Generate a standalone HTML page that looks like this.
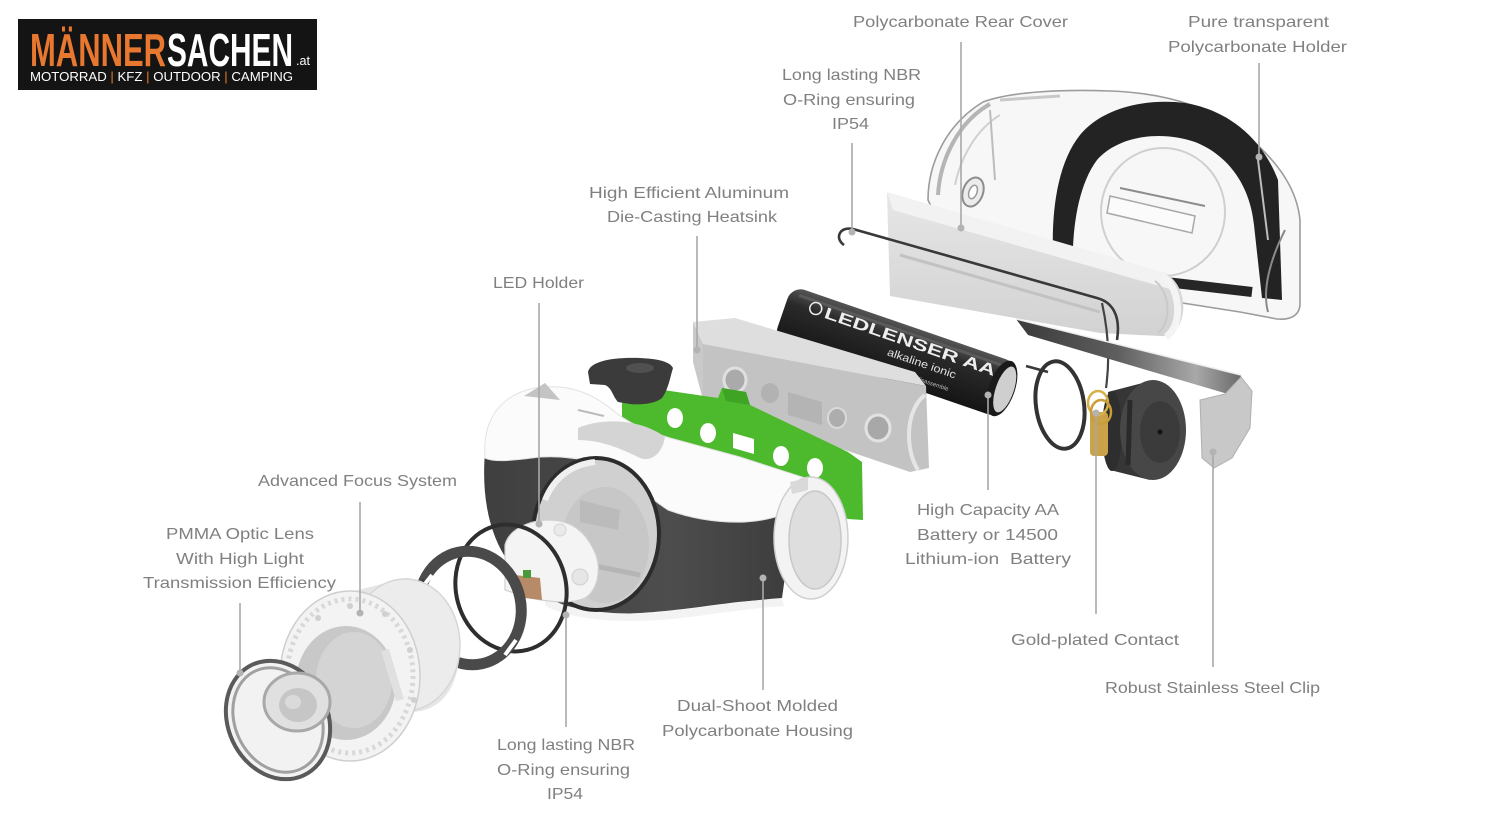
<!DOCTYPE html>
<html><head><meta charset="utf-8"><style>
html,body{margin:0;padding:0;background:#fff;width:1491px;height:818px;overflow:hidden;}
svg{display:block;}
.t{font-family:"Liberation Sans",sans-serif;font-size:16px;fill:#808080;}
.l{stroke:#a8a8a8;stroke-width:1.6;fill:none;}
.d{fill:#b3b3b3;}
</style></head><body>
<svg width="1491" height="818" viewBox="0 0 1491 818" xmlns="http://www.w3.org/2000/svg">
<defs>
<linearGradient id="steel" x1="0" y1="0" x2="1" y2="0">
<stop offset="0" stop-color="#3a3a3a"/><stop offset="0.45" stop-color="#5e5e5e"/><stop offset="0.8" stop-color="#a8a8a8"/><stop offset="1" stop-color="#6a6a6a"/></linearGradient>
<linearGradient id="bat" x1="0" y1="0" x2="0" y2="1">
<stop offset="0" stop-color="#555"/><stop offset="0.3" stop-color="#2a2a2a"/><stop offset="1" stop-color="#151515"/></linearGradient>
<linearGradient id="cover" x1="0" y1="0" x2="0" y2="1">
<stop offset="0" stop-color="#e6e6e6"/><stop offset="1" stop-color="#d2d2d2"/></linearGradient>
<linearGradient id="dark" x1="0" y1="0" x2="1" y2="0">
<stop offset="0" stop-color="#3f3f3f"/><stop offset="0.6" stop-color="#4d4d4d"/><stop offset="1" stop-color="#3c3c3c"/></linearGradient>
</defs>

<!-- LOGO -->
<rect x="18" y="19" width="299" height="71" fill="#141414"/>
<text x="30" y="66" font-family="Liberation Sans,sans-serif" font-weight="bold" font-size="46" textLength="136" lengthAdjust="spacingAndGlyphs" fill="#e8782f">MÄNNER</text>
<text x="167" y="66" font-family="Liberation Sans,sans-serif" font-weight="bold" font-size="46" textLength="126" lengthAdjust="spacingAndGlyphs" fill="#ffffff">SACHEN</text>
<text x="296" y="65" font-family="Liberation Sans,sans-serif" font-size="13" textLength="14" lengthAdjust="spacingAndGlyphs" fill="#ffffff">.at</text>
<text x="30" y="81" font-family="Liberation Sans,sans-serif" font-size="12.5" textLength="263" lengthAdjust="spacingAndGlyphs" fill="#ffffff">MOTORRAD <tspan fill="#e8782f">|</tspan> KFZ <tspan fill="#e8782f">|</tspan> OUTDOOR <tspan fill="#e8782f">|</tspan> CAMPING</text>

<!-- TRANSPARENT HOLDER -->
<path d="M928,200 C928,165 945,125 983,102 C1010,92 1060,89 1110,91 C1170,93 1220,110 1252,140 C1280,165 1297,190 1300,220 L1300,305 C1299,316 1290,320 1277,319 L1240,312 L1100,290 L935,215 Z" fill="#f7f7f7" stroke="#9c9c9c" stroke-width="1.6"/>
<path d="M938,195 C940,160 958,122 990,104" stroke="#b5b5b5" stroke-width="4" fill="none"/>
<path d="M955,185 C960,160 975,130 1000,115" stroke="#d0d0d0" stroke-width="2" fill="none"/>
<path d="M990,110 L995,180" stroke="#bcbcbc" stroke-width="2" fill="none"/>
<path d="M1000,100 L1060,96" stroke="#c8c8c8" stroke-width="3"/>
<ellipse cx="973" cy="192" rx="10" ry="15" fill="#ececec" stroke="#8c8c8c" stroke-width="2" transform="rotate(20 973 192)"/>
<ellipse cx="973" cy="192" rx="4" ry="7" fill="#fff" stroke="#999" stroke-width="1.5" transform="rotate(20 973 192)"/>
<path d="M1056,292 C1049,235 1052,170 1080,135 C1102,108 1145,98 1185,103 C1228,110 1262,138 1278,180 L1282,300 L1262,298 L1254,225 C1250,185 1228,155 1195,142 C1160,130 1118,136 1097,160 C1076,188 1070,240 1074,285 Z" fill="#232323"/>
<path d="M1080,272 L1252,292" stroke="#262626" stroke-width="10" fill="none"/>
<ellipse cx="1163" cy="212" rx="62" ry="64" fill="none" stroke="#cfcfcf" stroke-width="2"/>
<path d="M1110,196 L1195,216 L1192,233 L1107,213 Z" fill="#fbfbfb" stroke="#a8a8a8" stroke-width="1.5"/>
<path d="M1120,188 L1205,206" stroke="#8c8c8c" stroke-width="2"/>
<path d="M1258,160 L1268,240" stroke="#bdbdbd" stroke-width="2"/>
<path d="M1285,230 C1270,260 1262,290 1268,312" stroke="#8a8a8a" stroke-width="2" fill="none"/>

<!-- REAR COVER -->
<path d="M887,193 L1165,273 C1178,280 1185,296 1183,312 C1181,327 1173,337 1160,336 L1100,333 L890,296 Z" fill="url(#cover)"/>
<path d="M887,192 L1166,273 L1170,289 L893,210 Z" fill="#f2f2f2"/>
<path d="M900,255 L1100,312" stroke="#c2c2c2" stroke-width="3" fill="none"/>
<path d="M1162,276 C1180,286 1184,325 1166,337" stroke="#f4f4f4" stroke-width="7" fill="none"/>
<path d="M1155,281 C1170,292 1172,322 1158,333" stroke="#c9c9c9" stroke-width="2" fill="none"/>

<!-- WIRE -->
<path d="M1117,340 C1121,315 1112,302 1097,298 L853,229 C840,226 834,238 844,245" stroke="#393939" stroke-width="2.6" fill="none"/>
<path d="M1026,366 L1048,372" stroke="#393939" stroke-width="2.6"/>
<path d="M1102,303 C1108,330 1110,360 1106,388" stroke="#444" stroke-width="2.2" fill="none"/>

<!-- STEEL CLIP -->
<path d="M1016,319 L1241,375 L1238,397 L1028,335 Z" fill="url(#steel)"/>
<path d="M1016,319 L1241,375" stroke="#eee" stroke-width="1.5"/>
<path d="M1241,377 L1252,391 L1250,428 L1232,458 L1214,468 L1202,458 L1200,400 L1225,394 Z" fill="#c8c8c8" stroke="#b0b0b0" stroke-width="1"/>

<!-- BATTERY -->
<g transform="translate(896,352) rotate(19)">
<rect x="-120" y="-29" width="240" height="58" rx="14" fill="url(#bat)"/>
<path d="M-110,-22 L108,-22" stroke="#6a6a6a" stroke-width="3" opacity="0.6"/>
<ellipse cx="112" cy="0" rx="13" ry="29" fill="#1a1a1a"/>
<ellipse cx="115" cy="0" rx="9" ry="24" fill="#cfcfcf"/>
<circle cx="-90" cy="-15" r="6" fill="none" stroke="#eee" stroke-width="1.5"/>
<text x="-80" y="-9" font-family="Liberation Sans,sans-serif" font-size="16" font-weight="bold" fill="#eeeeee" textLength="180" lengthAdjust="spacingAndGlyphs">LEDLENSER AA</text>
<text x="-8" y="6" font-family="Liberation Sans,sans-serif" font-size="11" fill="#e0e0e0" textLength="72" lengthAdjust="spacingAndGlyphs">alkaline ionic</text>
<text x="10" y="20" font-family="Liberation Sans,sans-serif" font-size="6" fill="#bbb">do not disassemble</text>
</g>

<!-- RIGHT O-RING, END CAP -->
<ellipse cx="1060" cy="405" rx="24" ry="44" fill="none" stroke="#333" stroke-width="4" transform="rotate(-8 1060 405)"/>
<path d="M1108,392 L1150,381 L1150,480 L1110,470 Z" fill="#363636"/>
<ellipse cx="1112" cy="431" rx="10" ry="40" fill="#2e2e2e"/>
<ellipse cx="1153" cy="430" rx="33" ry="50" fill="#474747"/>
<ellipse cx="1160" cy="432" rx="20" ry="31" fill="#3b3b3b"/>
<path d="M1130,400 L1128,465" stroke="#2a2a2a" stroke-width="5"/>
<circle cx="1160" cy="432" r="2.5" fill="#111"/>
<rect x="1090" y="412" width="18" height="44" rx="4" fill="#c9a24a"/>
<ellipse cx="1098" cy="403" rx="10" ry="12" fill="none" stroke="#d7b04a" stroke-width="2.5"/>
<ellipse cx="1101" cy="412" rx="10" ry="12" fill="none" stroke="#c99d38" stroke-width="2.5"/>

<!-- HEATSINK -->
<path d="M693,322 L735,318 L915,372 L926,386 L703,344 Z" fill="#dedede"/>
<path d="M693,322 L703,344 L703,400 L693,362 Z" fill="#c9c9c9"/>
<path d="M703,344 L926,386 L929,468 L910,472 L703,402 Z" fill="#c3c3c3"/>
<path d="M925,395 C905,410 905,450 918,470" stroke="#e5e5e5" stroke-width="4" fill="none"/>
<ellipse cx="735" cy="380" rx="11" ry="12" fill="#aaa" stroke="#e0e0e0" stroke-width="3"/>
<ellipse cx="770" cy="393" rx="9" ry="10" fill="#b2b2b2"/>
<path d="M788,392 L822,402 L822,425 L788,415 Z" fill="#b4b4b4"/>
<ellipse cx="837" cy="418" rx="9" ry="10" fill="#adadad" stroke="#dadada" stroke-width="2"/>
<ellipse cx="878" cy="428" rx="12" ry="13" fill="#a8a8a8" stroke="#e2e2e2" stroke-width="3"/>

<!-- GREEN PCB -->
<path d="M622,384 L718,398 L722,388 L746,392 L750,405 L848,452 L862,462 L863,520 L848,519 L622,443 Z" fill="#4db92c"/>
<path d="M722,388 L746,392 L750,405 L726,401 Z" fill="#3fa324"/>
<ellipse cx="675" cy="418" rx="8" ry="10" fill="#fff"/>
<ellipse cx="708" cy="433" rx="8" ry="10" fill="#fff"/>
<path d="M733,433 L754,439 L754,454 L733,448 Z" fill="#fff"/>
<ellipse cx="781" cy="456" rx="8" ry="10" fill="#fff"/>
<ellipse cx="815" cy="468" rx="8" ry="10" fill="#fff"/>

<!-- HOUSING -->
<path d="M485,452 C481,500 490,550 525,580 C545,600 570,610 600,613 C640,616 690,608 730,603 C755,600 772,600 782,598 L795,505 L660,505 L600,462 L540,455 Z" fill="url(#dark)"/>
<path d="M485,458 C482,420 500,395 535,388 C565,383 590,392 610,408 C630,425 650,432 670,438 L740,457 L805,478 L800,505 C790,512 775,520 745,522 C715,523 690,518 668,510 C645,495 630,478 610,466 C590,458 560,456 540,457 C515,460 495,463 485,458 Z" fill="#fbfbfb" stroke="#e2e2e2" stroke-width="1"/>
<path d="M578,428 C600,418 640,418 665,437 C662,455 650,462 640,458 C620,448 600,440 578,440 Z" fill="#d4d4d4"/>
<path d="M524,396 L545,383 L560,400 Z" fill="#c4c4c4"/>
<path d="M578,410 L604,416" stroke="#bbb" stroke-width="2"/>
<path d="M545,598 C575,612 620,616 660,612 C700,608 740,601 782,598 L784,606 C740,609 700,617 660,620 C615,623 575,620 545,606 Z" fill="#f3f3f3"/>
<ellipse cx="596" cy="534" rx="63" ry="76" fill="#d0d0d0" stroke="#2c2c2c" stroke-width="4"/>
<path d="M545,500 C555,475 575,464 595,462" stroke="#f0f0f0" stroke-width="6" fill="none"/>
<ellipse cx="605" cy="545" rx="44" ry="58" fill="#c7c7c7"/>
<path d="M580,500 L620,510 L618,530 L580,522 Z" fill="#bbbbbb"/>
<path d="M565,560 L640,575" stroke="#b5b5b5" stroke-width="5"/>
<ellipse cx="811" cy="538" rx="37" ry="61" fill="#f3f3f3" stroke="#cfcfcf" stroke-width="1.5"/>
<ellipse cx="815" cy="540" rx="26" ry="49" fill="#dedede" stroke="#c8c8c8" stroke-width="1.5"/>
<path d="M790,482 L808,478 L808,490 L792,494 Z" fill="#d9d9d9"/>

<!-- KNOB -->
<path d="M588,372 C590,362 610,357 640,358 C660,359 670,362 673,368 C670,378 668,390 662,398 C655,404 640,405 630,404 L618,402 C612,395 612,388 605,385 L590,384 Z" fill="#3b3b3b"/>
<ellipse cx="640" cy="368" rx="14" ry="5" fill="#505050"/>

<!-- LED HOLDER -->
<path d="M505,545 C510,525 540,517 560,521 C580,525 590,540 596,555 C601,570 598,590 585,598 C570,605 545,601 530,598 L505,590 Z" fill="#f4f4f4" stroke="#d0d0d0" stroke-width="1.2"/>
<path d="M515,575 L540,578 L542,600 L516,597 Z" fill="#b78a68"/>
<rect x="523" y="570" width="8" height="8" fill="#4a9a3a"/>
<circle cx="580" cy="577" r="8" fill="#e6e6e6" stroke="#d0d0d0"/>
<circle cx="560" cy="530" r="6" fill="#eaeaea" stroke="#d4d4d4"/>

<!-- LEFT O-RING and BEZEL -->
<ellipse cx="511" cy="588" rx="55" ry="64" fill="none" stroke="#2e2e2e" stroke-width="4" transform="rotate(-15 511 588)"/>
<ellipse cx="470" cy="608" rx="51" ry="57" fill="none" stroke="#4a4a4a" stroke-width="11" transform="rotate(-12 470 608)"/>
<path d="M425,580 C416,600 416,625 424,645" stroke="#3c3c3c" stroke-width="6" fill="none"/>
<path d="M432,575 L420,590" stroke="#fff" stroke-width="4"/>
<path d="M516,640 L505,655" stroke="#fff" stroke-width="4"/>

<!-- FOCUS SYSTEM -->
<path d="M350,592 L405,578 C440,580 462,612 460,650 C458,690 440,712 410,712 L350,760 Z" fill="#e6e6e6"/>
<ellipse cx="405" cy="645" rx="55" ry="66" fill="#ececec" stroke="#d6d6d6" stroke-width="1.5"/>
<ellipse cx="350" cy="676" rx="70" ry="85" fill="#f3f3f3" stroke="#cfcfcf" stroke-width="1.5"/>
<ellipse cx="350" cy="676" rx="63" ry="77" fill="none" stroke="#d8d8d8" stroke-width="5" stroke-dasharray="3 4"/>
<ellipse cx="346" cy="683" rx="50" ry="57" fill="#c8c8c8"/>
<ellipse cx="354" cy="680" rx="38" ry="48" fill="#d4d4d4"/>
<path d="M385,650 L400,700" stroke="#e0e0e0" stroke-width="8"/>
<circle cx="318" cy="618" r="3" fill="#d0d0d0"/><circle cx="350" cy="606" r="3" fill="#d0d0d0"/><circle cx="385" cy="614" r="3" fill="#d0d0d0"/><circle cx="410" cy="650" r="3" fill="#d0d0d0"/><circle cx="414" cy="700" r="3" fill="#d0d0d0"/>

<!-- LENS -->
<g transform="rotate(-25 278 720)">
<ellipse cx="278" cy="720" rx="50" ry="61" fill="#f2f2f2" stroke="#5a5a5a" stroke-width="4"/>
<ellipse cx="278" cy="720" rx="43" ry="54" fill="none" stroke="#a0a0a0" stroke-width="3"/>
</g>
<ellipse cx="297" cy="702" rx="33" ry="29" fill="#e0e0e0" stroke="#a8a8a8" stroke-width="3"/>
<ellipse cx="298" cy="705" rx="19" ry="17" fill="#c6c6c6"/>
<ellipse cx="293" cy="702" rx="8" ry="7" fill="#dadada"/>

<!-- LEADER LINES -->
<line class="l" x1="961" y1="42" x2="961" y2="228"/><circle class="d" cx="961" cy="228" r="3.5"/>
<line class="l" x1="1259" y1="63" x2="1259" y2="157"/><circle class="d" cx="1259" cy="157" r="3.5"/>
<line class="l" x1="852" y1="143" x2="852" y2="232"/><circle class="d" cx="852" cy="232" r="3.5"/>
<line class="l" x1="697" y1="236" x2="697" y2="350"/><circle class="d" cx="697" cy="350" r="3.5"/>
<line class="l" x1="539" y1="303" x2="539" y2="524"/><circle class="d" cx="539" cy="524" r="3.5"/>
<line class="l" x1="360" y1="502" x2="360" y2="613"/><circle class="d" cx="360" cy="613" r="3.5"/>
<line class="l" x1="240" y1="603" x2="240" y2="673"/><circle class="d" cx="240" cy="673" r="3.5"/>
<line class="l" x1="988" y1="395" x2="988" y2="490"/><circle class="d" cx="988" cy="395" r="3.5"/>
<line class="l" x1="1096" y1="413" x2="1096" y2="614"/><circle class="d" cx="1096" cy="413" r="3.5"/>
<line class="l" x1="1213" y1="452" x2="1213" y2="667"/><circle class="d" cx="1213" cy="452" r="3.5"/>
<line class="l" x1="763" y1="578" x2="763" y2="690"/><circle class="d" cx="763" cy="578" r="3.5"/>
<line class="l" x1="566" y1="615" x2="566" y2="727"/><circle class="d" cx="566" cy="615" r="3.5"/>

<!-- LABELS -->
<text class="t" x="853" y="27" textLength="215" lengthAdjust="spacingAndGlyphs">Polycarbonate Rear Cover</text>
<text class="t" x="1188" y="27" textLength="141" lengthAdjust="spacingAndGlyphs">Pure transparent</text>
<text class="t" x="1168" y="52" textLength="179" lengthAdjust="spacingAndGlyphs">Polycarbonate Holder</text>
<text class="t" x="782" y="80" textLength="139" lengthAdjust="spacingAndGlyphs">Long lasting NBR</text>
<text class="t" x="783" y="105" textLength="132" lengthAdjust="spacingAndGlyphs">O-Ring ensuring</text>
<text class="t" x="832" y="129" textLength="37" lengthAdjust="spacingAndGlyphs">IP54</text>
<text class="t" x="589" y="198" textLength="200" lengthAdjust="spacingAndGlyphs">High Efficient Aluminum</text>
<text class="t" x="607" y="222" textLength="170" lengthAdjust="spacingAndGlyphs">Die-Casting Heatsink</text>
<text class="t" x="493" y="288" textLength="91" lengthAdjust="spacingAndGlyphs">LED Holder</text>
<text class="t" x="258" y="486" textLength="199" lengthAdjust="spacingAndGlyphs">Advanced Focus System</text>
<text class="t" x="166" y="539" textLength="148" lengthAdjust="spacingAndGlyphs">PMMA Optic Lens</text>
<text class="t" x="176" y="564" textLength="128" lengthAdjust="spacingAndGlyphs">With High Light</text>
<text class="t" x="143" y="588" textLength="193" lengthAdjust="spacingAndGlyphs">Transmission Efficiency</text>
<text class="t" x="917" y="515" textLength="142" lengthAdjust="spacingAndGlyphs">High Capacity AA</text>
<text class="t" x="917" y="540" textLength="141" lengthAdjust="spacingAndGlyphs">Battery or 14500</text>
<text class="t" x="905" y="564" textLength="166" lengthAdjust="spacingAndGlyphs">Lithium-ion&#160; Battery</text>
<text class="t" x="1011" y="645" textLength="168" lengthAdjust="spacingAndGlyphs">Gold-plated Contact</text>
<text class="t" x="1105" y="693" textLength="215" lengthAdjust="spacingAndGlyphs">Robust Stainless Steel Clip</text>
<text class="t" x="677" y="711" textLength="161" lengthAdjust="spacingAndGlyphs">Dual-Shoot Molded</text>
<text class="t" x="662" y="736" textLength="191" lengthAdjust="spacingAndGlyphs">Polycarbonate Housing</text>
<text class="t" x="497" y="750" textLength="138" lengthAdjust="spacingAndGlyphs">Long lasting NBR</text>
<text class="t" x="497" y="775" textLength="133" lengthAdjust="spacingAndGlyphs">O-Ring ensuring</text>
<text class="t" x="547" y="799" textLength="36" lengthAdjust="spacingAndGlyphs">IP54</text>
</svg>
</body></html>
